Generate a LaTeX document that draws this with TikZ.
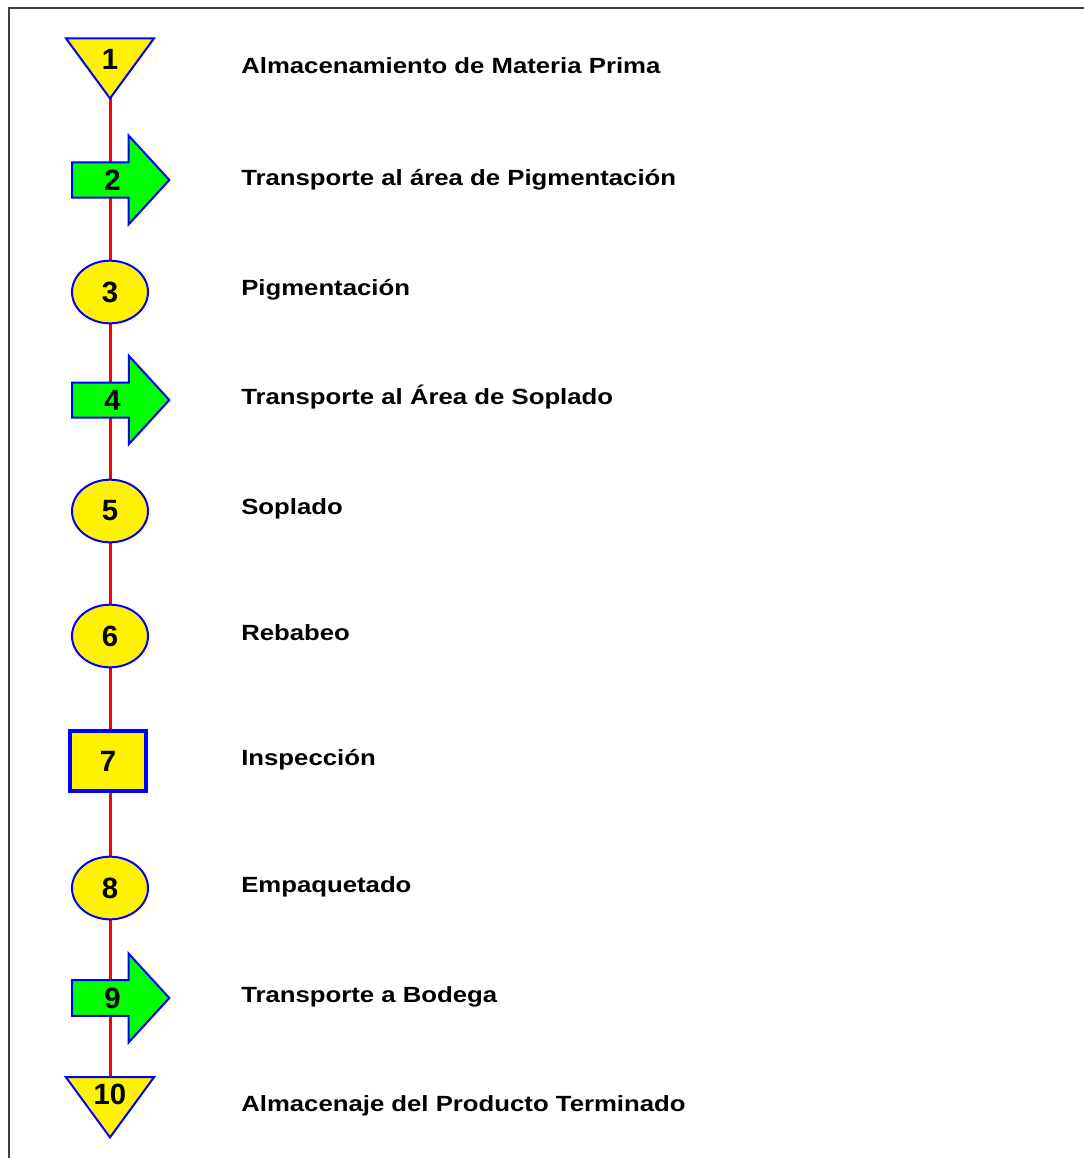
\documentclass[tikz,border=0pt]{standalone}
\usepackage{fontspec}
\setmainfont{Liberation Sans}
\newfontfamily\lblfont[FakeStretch=1.17]{Liberation Sans}
\usetikzlibrary{shapes.geometric,shapes.arrows,backgrounds}

\tikzset{
  sym/.style={draw=blue, line width=1.5pt, inner sep=0pt, font=\bfseries\fontsize{22}{22}\selectfont},
  oper/.style={sym, ellipse, fill=yellow, minimum width=57pt, minimum height=47pt},
  insp/.style={sym, rectangle, fill=yellow, line width=2.5pt, minimum width=57pt, minimum height=45pt},
  store/.style={sym, isosceles triangle, isosceles triangle stretches, shape border rotate=270,
    fill=yellow, minimum width=66pt, minimum height=45pt, anchor=apex},
  move/.style={sym, single arrow, fill=green, inner ysep=4.8pt, single arrow head extend=20pt,
    single arrow tip angle=95, minimum height=73pt, anchor=tail},
  lbl/.style={anchor=base west, inner sep=0pt, font=\lblfont\bfseries\fontsize{16.5}{16.5}\selectfont},
  flow/.style={red, line width=2.25pt},
}

\begin{document}
\begin{tikzpicture}[x=0.75pt, y=-0.75pt]
\useasboundingbox (0,0) rectangle (1083,1158);
\draw[black!75, line width=1.5pt] (9,1170) -- (9,8) -- (1095,8);

\node[store] (s1) at (110,101) {1};
\node[move] (s2) at (71,180) {2};
\node[oper] (s3) at (110,292) {3};
\node[move] (s4) at (71,400) {4};
\node[oper] (s5) at (110,511) {5};
\node[oper] (s6) at (110,636) {6};
\node[insp] (s7) at (108,761) {7};
\node[oper] (s8) at (110,888) {8};
\node[move] (s9) at (71,998) {9};
\node[store] (s10) at (110,1140) {10};

\begin{scope}[on background layer]
  \foreach \a/\b in {s1/s2, s2/s3, s3/s4, s4/s5, s5/s6, s6/s7, s7/s8, s8/s9, s9/s10}
    \draw[flow] (\a.center -| s1.apex) -- (\b.center -| s1.apex);
\end{scope}

\foreach \y/\t [count=\i] in {73.5/Almacenamiento de Materia Prima,
    185.5/Transporte al área de Pigmentación,
    295.5/Pigmentación,
    404.5/Transporte al Área de Soplado,
    514.5/Soplado,
    640.5/Rebabeo,
    765.5/Inspección,
    892.5/Empaquetado,
    1002.5/Transporte a Bodega,
    1111.5/Almacenaje del Producto Terminado}
  \node[lbl] (t\i) at (241,\y) {\t};

\end{tikzpicture}
\end{document}
